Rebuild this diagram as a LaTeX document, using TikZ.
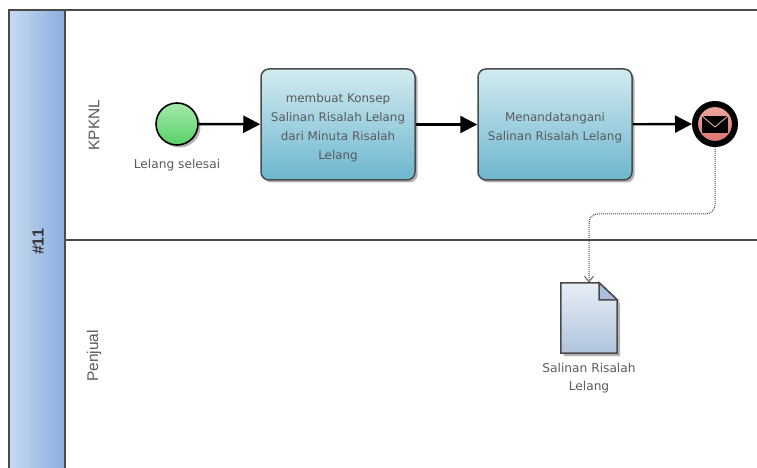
\documentclass[tikz,border=0pt]{standalone}
\usepackage{fontspec}
\setmainfont{DejaVu Sans}
\newfontfamily\lanefont{Liberation Sans}
\usetikzlibrary{positioning,arrows.meta,shadings,shadows,calc}
\definecolor{linegray}{HTML}{4A4A4A}
\definecolor{labelgray}{HTML}{5A5A5A}
\definecolor{pooltop}{HTML}{C8DAF0}
\definecolor{poolend}{HTML}{8CAEDE}
\definecolor{tasktop}{HTML}{D2EBF0}
\definecolor{taskend}{HTML}{6CB6CF}
\definecolor{starttop}{HTML}{A3EAAA}
\definecolor{startend}{HTML}{58D068}
\definecolor{endtop}{HTML}{EDA9A3}
\definecolor{endend}{HTML}{D9736C}
\definecolor{doctop}{HTML}{E8EEF6}
\definecolor{docend}{HTML}{AFC4DC}
\definecolor{foldfill}{HTML}{A9C0DC}
\tikzset{
    flowarrow/.style={line width=2.4pt, black, -{Triangle[length=17pt,width=17pt]}},
    msgarrow/.style={line width=1pt, densely dotted, linegray, rounded corners=9pt, -{Straight Barb[length=6pt,width=9pt,line width=0.8pt]}},
    softshadow/.style={drop shadow={shadow xshift=2.5pt, shadow yshift=-2.5pt, fill=black, opacity=0.3}},
    taskbox/.style={draw=linegray, line width=1.5pt, rounded corners=8pt, minimum width=154pt, minimum height=111pt,
        top color=tasktop, bottom color=taskend, align=center, text=labelgray,
        font=\fontsize{11.9}{19}\selectfont, softshadow},
    lanelabel/.style={rotate=90, text=labelgray, font=\lanefont\fontsize{15.5}{17}\selectfont},
    eventlabel/.style={text=labelgray, align=center, font=\fontsize{12.2}{18}\selectfont},
}
\newcommand{\taskpad}{\rule{0pt}{15pt}}
\begin{document}
\begin{tikzpicture}[x=1pt, y=1pt]
    \useasboundingbox (0,0) rectangle (757,468);
    % pool
    \fill[left color=pooltop, right color=poolend] (9,0) rectangle (65,458);
    \draw[linegray, line width=1.4pt] (9,0) -- (9,458) -- (757,458);
    \draw[linegray, line width=1.4pt] (65,0) -- (65,458);
    \draw[linegray, line width=1.4pt] (65,228) -- (757,228);
    \node[rotate=90, font=\lanefont\bfseries\fontsize{16}{18}\selectfont, text=black!80] (pooltitle) at (38,226) {\#11};
    \node[lanelabel] (kpknl) at (94,343) {KPKNL};
    \node[lanelabel] (penjual) at (94,112) {Penjual};
    % events and tasks
    \node[circle, minimum size=42pt, inner sep=0pt, draw=black, line width=1.6pt, top color=starttop, bottom color=startend, softshadow] (start) at (177,344) {};
    \node[eventlabel, below=10pt of start] (startlabel) {Lelang selesai};
    \node[taskbox] (konsep) at (338,343.5) {\taskpad membuat Konsep\\Salinan Risalah Lelang\\dari Minuta Risalah\\Lelang};
    \node[taskbox] (tanda) at (555,343.5) {\taskpad Menandatangani\\Salinan Risalah Lelang};
    \node[circle, minimum size=40pt, inner sep=0pt, draw=black, line width=6pt, top color=endtop, bottom color=endend, softshadow] (finish) at (715,344) {};
    \fill[black] ($(finish)+(-13,-9)$) rectangle ($(finish)+(13,8)$);
    \draw[endtop, line width=0.9pt] ($(finish)+(-13,8)$) -- ($(finish)+(0,-3)$) -- ($(finish)+(13,8)$);
    % document
    \node[minimum width=56pt, minimum height=70pt, inner sep=0pt] (doc) at (589,150) {};
    \fill[black, opacity=0.3] ($(doc.north west)+(3,-3)$) -- ($(doc.north east)+(-15,-3)$) -- ($(doc.north east)+(3,-20)$) -- ($(doc.south east)+(3,-3)$) -- ($(doc.south west)+(3,-3)$) -- cycle;
    \draw[linegray, line width=1.5pt, top color=doctop, bottom color=docend] (doc.north west) -- ($(doc.north east)+(-18,0)$) -- ($(doc.north east)+(0,-17)$) -- (doc.south east) -- (doc.south west) -- cycle;
    \draw[linegray, line width=1.5pt, fill=foldfill] ($(doc.north east)+(-18,0)$) -- ($(doc.north east)+(-18,-17)$) -- ($(doc.north east)+(0,-17)$) -- cycle;
    \node[eventlabel, below=6pt of doc] (doclabel) {Salinan Risalah\\Lelang};
    % flows
    \draw[flowarrow] (start) -- (konsep);
    \draw[flowarrow] (konsep) -- (tanda);
    \draw[flowarrow] (tanda) -- (finish);
    \draw[msgarrow] (finish.south) |- ($(doc.north)+(0,69)$) -- (doc.north);
\end{tikzpicture}
\end{document}
